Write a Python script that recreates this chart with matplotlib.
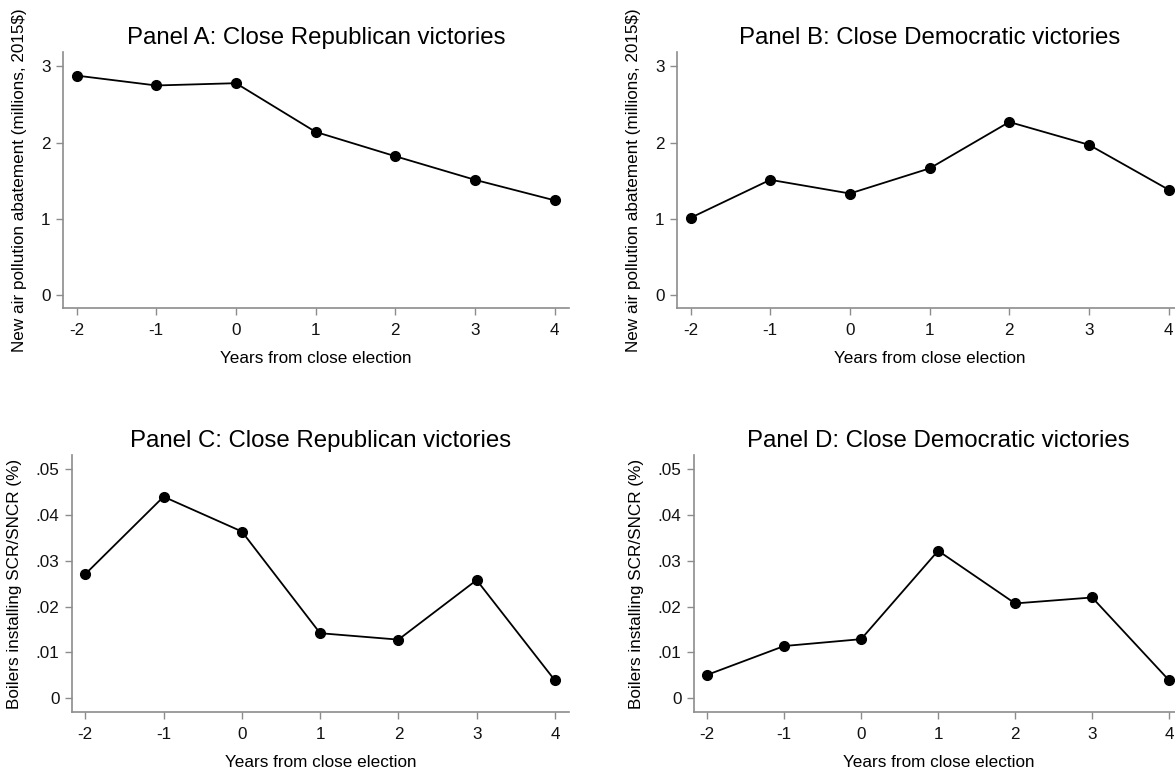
"""Close-election event plots: abatement spending and SCR/SNCR installs."""

import matplotlib

matplotlib.use("Agg")
import matplotlib.pyplot as plt

plt.rcParams["font.family"] = ["Liberation Sans", "DejaVu Sans"]

YEARS = [-2, -1, 0, 1, 2, 3, 4]

# panel A / B: new air pollution abatement (millions, 2015$)
abate_rep = [2.88, 2.75, 2.78, 2.14, 1.82, 1.51, 1.24]
abate_dem = [1.01, 1.51, 1.33, 1.66, 2.27, 1.97, 1.38]

# panel C / D: share of boilers installing SCR/SNCR
scr_rep = [0.0271, 0.0440, 0.0364, 0.0142, 0.0128, 0.0258, 0.0039]
scr_dem = [0.0051, 0.0114, 0.0129, 0.0322, 0.0207, 0.0220, 0.0039]

ABATE_TICKS = [0, 1, 2, 3]
ABATE_TICKLABELS = ["0", "1", "2", "3"]
SCR_TICKS = [0, 0.01, 0.02, 0.03, 0.04, 0.05]
SCR_TICKLABELS = ["0", ".01", ".02", ".03", ".04", ".05"]

TITLES = [
    "Panel A: Close Republican victories",
    "Panel B: Close Democratic victories",
    "Panel C: Close Republican victories",
    "Panel D: Close Democratic victories",
]
XLABEL = "Years from close election"
YLABEL_TOP = "New air pollution abatement (millions, 2015$)"
YLABEL_BOTTOM = "Boilers installing SCR/SNCR (%)"

AXIS_GREY = "#8c8c8c"
W, H = 1175, 773


def px_box(x0, x1, y_top, y_bot):
    return [x0 / W, 1 - y_bot / H, (x1 - x0) / W, (y_bot - y_top) / H]


def style(ax, values, yticks, yticklabels, ylim, title, ylabel):
    ax.plot(YEARS, values, color="black", linewidth=1.3, marker="o",
            markersize=7, markerfacecolor="black", markeredgecolor="black")
    ax.set_xlim(-2.17, 4.18)
    ax.set_ylim(*ylim)
    ax.set_xticks(YEARS)
    ax.set_xticklabels([str(y) for y in YEARS])
    ax.set_yticks(yticks)
    ax.set_yticklabels(yticklabels)
    for side in ("top", "right"):
        ax.spines[side].set_visible(False)
    for side in ("left", "bottom"):
        ax.spines[side].set_color(AXIS_GREY)
        ax.spines[side].set_linewidth(1.2)
    ax.tick_params(axis="both", direction="out", length=5, width=1,
                   color=AXIS_GREY, labelsize=12.3, labelcolor="#111111")
    ax.tick_params(axis="x", pad=6)
    ax.tick_params(axis="y", pad=4)
    ax.set_title(title, fontsize=17.3, pad=6)
    ax.set_xlabel(XLABEL, fontsize=12.3, labelpad=9)
    ax.set_ylabel(ylabel, fontsize=12.3, labelpad=10)


fig = plt.figure(figsize=(W / 100, H / 100), dpi=100)

ax_a = fig.add_axes(px_box(63, 569, 52, 308))
ax_b = fig.add_axes(px_box(677, 1183, 52, 308))
ax_c = fig.add_axes(px_box(72, 569, 455, 712))
ax_d = fig.add_axes(px_box(694, 1183, 455, 712))

style(ax_a, abate_rep, ABATE_TICKS, ABATE_TICKLABELS, (-0.175, 3.19), TITLES[0], YLABEL_TOP)
style(ax_b, abate_dem, ABATE_TICKS, ABATE_TICKLABELS, (-0.175, 3.19), TITLES[1], YLABEL_TOP)
style(ax_c, scr_rep, SCR_TICKS, SCR_TICKLABELS, (-0.003, 0.0531), TITLES[2], YLABEL_BOTTOM)
style(ax_d, scr_dem, SCR_TICKS, SCR_TICKLABELS, (-0.003, 0.0531), TITLES[3], YLABEL_BOTTOM)

fig.savefig("out.png", dpi=100)
plt.close(fig)
